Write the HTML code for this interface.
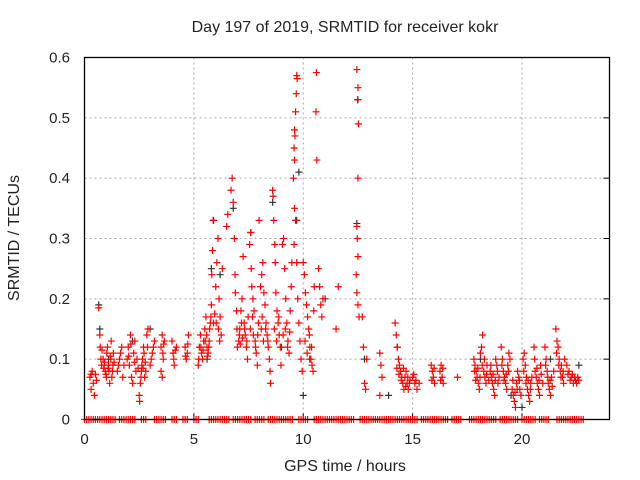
<!DOCTYPE html>
<html><head><meta charset="utf-8">
<style>
html,body{margin:0;padding:0;background:#fff;}
svg{display:block;font-family:"Liberation Sans",sans-serif;}
</style></head>
<body>
<svg id="chart" width="640" height="480" viewBox="0 0 640 480">
  <text x="345" y="32" font-size="16" text-anchor="middle" fill="#222">Day 197 of 2019, SRMTID for receiver kokr</text>
  <text x="0" y="0" font-size="16" text-anchor="middle" fill="#222" transform="translate(19,238) rotate(-90)">SRMTID / TECUs</text>
  <text x="345" y="471" font-size="16" text-anchor="middle" fill="#222">GPS time / hours</text>
  <g id="grid"></g>
  <g id="ticks"></g>
  <g id="black"></g>
  <g id="red"></g>
  <rect x="84.5" y="57.5" width="525" height="362" fill="none" stroke="#000" stroke-width="1.3"/>
</svg>
<script>
const xTicks = [0,5,10,15,20];
const yTicks = [0,0.1,0.2,0.3,0.4,0.5,0.6];
const yTickLabels = ["0","0.1","0.2","0.3","0.4","0.5","0.6"];
const redPoints = [
[0.25,0.07],[0.3,0.05],[0.35,0.08],[0.4,0.06],[0.45,0.04],[0.5,0.075],
[0.65,0.185],[0.7,0.14],[0.72,0.12],[0.75,0.1],[0.78,0.09],
[0.85,0.1],[0.9,0.09],[0.95,0.08],[1.0,0.07],[1.02,0.11],[1.05,0.12],[1.1,0.09],[1.12,0.08],[1.15,0.06],[1.2,0.1],[1.22,0.13],[1.25,0.07],[1.3,0.09],[1.32,0.11],
[1.5,0.08],[1.6,0.1],[1.7,0.12],[1.75,0.07],
[1.95,0.1],[2.0,0.12],[2.05,0.09],[2.1,0.14],[2.15,0.07],[2.2,0.06],[2.25,0.11],[2.3,0.13],[2.35,0.08],[2.4,0.1],
[2.5,0.04],[2.52,0.03],[2.55,0.06],[2.6,0.08],[2.62,0.09],[2.65,0.1],[2.7,0.12],[2.72,0.11],[2.75,0.07],[2.8,0.08],[2.85,0.14],[2.9,0.15],
[3.0,0.09],[3.1,0.11],[3.2,0.13],
[3.5,0.12],[3.55,0.14],[3.6,0.1],[3.65,0.13],[3.5,0.08],[3.55,0.07],
[4.0,0.13],[4.05,0.11],[4.1,0.09],[4.2,0.12],
[4.6,0.12],[4.65,0.1],[4.7,0.11],[4.75,0.14],
[5.2,0.09],[5.25,0.12],[5.3,0.14],[5.35,0.11],[5.4,0.1],[5.45,0.13],[5.5,0.15],[5.55,0.17],[5.6,0.12],[5.65,0.11],[5.7,0.13],[5.75,0.16],[5.8,0.19],[5.82,0.24],[5.85,0.28],[5.88,0.33],
[6.0,0.22],[6.05,0.26],[6.1,0.3],[6.15,0.2],[6.2,0.17],[6.25,0.14],[6.3,0.25],
[6.5,0.32],[6.55,0.34],[6.7,0.38],[6.75,0.4],[6.8,0.36],[6.85,0.3],[6.88,0.24],[6.9,0.21],[6.95,0.18],[6.97,0.15],[6.99,0.12],
[7.05,0.13],[7.1,0.15],[7.15,0.18],[7.2,0.2],[7.25,0.27],[7.3,0.16],[7.35,0.14],[7.4,0.12],[7.45,0.1],[7.48,0.17],
[7.55,0.29],[7.6,0.31],[7.62,0.25],[7.65,0.22],[7.7,0.2],[7.75,0.18],[7.8,0.13],[7.85,0.11],[7.9,0.09],[7.92,0.14],[7.95,0.16],[7.98,0.33],
[8.05,0.22],[8.1,0.24],[8.15,0.26],[8.2,0.21],[8.25,0.19],[8.3,0.16],[8.35,0.14],[8.4,0.12],[8.45,0.1],[8.48,0.08],[8.5,0.06],
[8.6,0.38],[8.62,0.37],[8.65,0.33],[8.7,0.29],[8.72,0.26],[8.75,0.21],[8.8,0.18],[8.85,0.16],[8.9,0.14],[8.95,0.12],[8.98,0.09],
[9.05,0.29],[9.1,0.3],[9.15,0.25],[9.2,0.2],[9.25,0.16],[9.3,0.13],[9.35,0.11],[9.4,0.18],[9.45,0.22],[9.48,0.26],
[9.7,0.57],[9.72,0.565],[9.68,0.54],[9.65,0.51],[9.6,0.48],[9.62,0.47],[9.58,0.45],[9.6,0.43],[9.55,0.4],[9.6,0.35],[9.65,0.33],[9.58,0.29],[9.7,0.26],[9.75,0.2],[9.8,0.16],[9.85,0.13],[9.9,0.1],[9.95,0.08],
[10.0,0.26],[10.05,0.24],[10.1,0.21],[10.15,0.19],[10.2,0.17],[10.25,0.15],[10.3,0.12],[10.35,0.1],[10.4,0.09],[10.45,0.08],[10.48,0.18],[10.5,0.22],
[10.6,0.575],[10.58,0.51],[10.62,0.43],[10.7,0.25],[10.75,0.22],[10.8,0.19],[10.85,0.17],[10.9,0.2],
[11.6,0.22],[11.5,0.15],
[12.45,0.58],[12.5,0.55],[12.48,0.53],[12.52,0.49],[12.5,0.4],[12.45,0.32],[12.47,0.3],[12.5,0.27],[12.42,0.24],[12.45,0.21],[12.5,0.19],[12.55,0.17],
[12.75,0.12],[12.8,0.06],[12.85,0.05],[12.7,0.17],[12.9,0.1],
[13.5,0.11],[13.55,0.09],[13.6,0.07],[13.5,0.04],
[14.2,0.16],[14.25,0.14],[14.3,0.12],[14.35,0.1],[14.4,0.09],[14.45,0.08],[14.5,0.07],[14.55,0.06],[14.6,0.05],[14.65,0.07],[14.7,0.08],[14.75,0.06],[14.8,0.05],[14.85,0.06],
[15.0,0.07],[15.1,0.06],[15.2,0.05],[15.3,0.06],
[15.85,0.09],[15.9,0.08],[15.95,0.07],[16.0,0.06],[16.25,0.08],[16.3,0.09],[16.35,0.07],[16.4,0.06],
[17.05,0.07],
[17.8,0.1],[17.85,0.09],[17.9,0.08],[17.95,0.07],[18.0,0.06],[18.05,0.05],[18.1,0.11],[18.15,0.12],[18.2,0.14],[18.25,0.08],[18.3,0.07],[18.35,0.06],[18.4,0.09],
[18.55,0.08],[18.6,0.07],[18.65,0.06],[18.7,0.05],[18.75,0.04],[18.8,0.1],[18.85,0.09],[18.9,0.06],
[19.05,0.12],[19.1,0.1],[19.15,0.08],[19.2,0.07],[19.25,0.06],[19.3,0.05],[19.35,0.09],[19.4,0.11],
[19.55,0.05],[19.6,0.04],[19.65,0.03],[19.7,0.02],[19.75,0.06],[19.8,0.08],[19.85,0.07],[19.9,0.05],
[20.05,0.1],[20.1,0.11],[20.15,0.09],[20.2,0.07],[20.25,0.05],[20.3,0.04],[20.35,0.03],[20.4,0.06],
[20.55,0.12],[20.6,0.08],[20.65,0.07],[20.7,0.06],[20.75,0.05],[20.8,0.04],[20.85,0.09],
[21.05,0.12],[21.1,0.1],[21.15,0.08],[21.2,0.06],[21.25,0.05],[21.3,0.04],[21.35,0.07],
[21.55,0.15],[21.6,0.13],[21.65,0.12],[21.7,0.1],[21.75,0.08],[21.8,0.09],[21.85,0.07],[21.9,0.06],
[22.05,0.09],[22.15,0.08],[22.25,0.07],[22.35,0.06],[22.45,0.065],[22.55,0.07]
];
const redPointsExtra = [
[0.3,0.075],[0.55,0.065],[0.8,0.115],[0.88,0.085],[0.92,0.095],[0.98,0.075],[1.08,0.085],[1.18,0.105],[1.28,0.08],[1.35,0.095],
[1.55,0.09],[1.65,0.11],[1.8,0.09],[2.02,0.105],[2.12,0.125],[2.28,0.095],[2.45,0.085],[2.58,0.07],[2.68,0.085],[2.78,0.095],[2.88,0.12],
[3.05,0.1],[3.15,0.12],[3.58,0.11],[3.62,0.125],[4.08,0.1],[4.15,0.115],[4.62,0.105],[4.72,0.125],
[5.22,0.1],[5.32,0.12],[5.42,0.115],[5.52,0.13],[5.58,0.14],[5.62,0.105],[5.68,0.12],[5.72,0.15],[5.78,0.17],[5.9,0.16],[5.95,0.175],
[6.02,0.16],[6.12,0.15],[6.18,0.13],[7.08,0.14],[7.12,0.125],[7.18,0.16],[7.22,0.135],[7.32,0.15],[7.42,0.13],
[7.58,0.15],[7.68,0.17],[7.72,0.14],[7.82,0.12],[8.08,0.15],[8.12,0.17],[8.18,0.13],[8.28,0.15],[8.38,0.13],
[8.68,0.15],[8.78,0.13],[8.88,0.17],[9.08,0.14],[9.18,0.15],[9.28,0.12],[9.38,0.145],
[10.08,0.13],[10.18,0.11],[10.28,0.14],[10.38,0.12],
[14.28,0.085],[14.38,0.075],[14.48,0.065],[14.58,0.085],[14.68,0.055],[14.78,0.07],[14.88,0.065],[15.05,0.075],[15.15,0.065],
[15.88,0.065],[15.98,0.085],[16.28,0.065],[16.38,0.085],
[17.82,0.08],[17.88,0.065],[17.98,0.085],[18.08,0.07],[18.18,0.09],[18.28,0.1],[18.38,0.075],[18.48,0.065],
[18.58,0.09],[18.68,0.075],[18.78,0.065],[18.88,0.08],[18.95,0.07],[19.08,0.09],[19.18,0.065],[19.28,0.075],[19.38,0.08],[19.45,0.1],
[19.58,0.065],[19.68,0.045],[19.78,0.05],[19.88,0.065],[19.95,0.04],[20.08,0.08],[20.18,0.06],[20.28,0.065],[20.38,0.05],[20.45,0.07],
[20.58,0.1],[20.68,0.085],[20.78,0.065],[20.88,0.075],[20.95,0.06],[21.08,0.09],[21.18,0.07],[21.28,0.065],[21.38,0.055],[21.45,0.08],
[21.58,0.11],[21.68,0.09],[21.78,0.07],[21.88,0.08],[21.95,0.1],[22.1,0.075],[22.2,0.065],[22.3,0.075],[22.4,0.07],[22.5,0.06],[22.6,0.065]
];
const blackPoints = [
[0.65,0.19],[0.7,0.15],[1.1,0.1],[2.2,0.13],[3.0,0.15],[5.6,0.1],[5.8,0.25],[5.9,0.33],[6.2,0.24],
[6.8,0.35],[7.6,0.31],[8.6,0.36],[9.0,0.12],[9.7,0.33],[9.8,0.41],[10.0,0.04],[10.3,0.1],[11.0,0.2],
[12.45,0.325],[12.5,0.53],[12.8,0.1],[13.9,0.04],[14.3,0.12],[18.1,0.1],[19.5,0.04],[20.0,0.02],[21.3,0.1],[22.6,0.09]
];
const zeroHours = [];
const zeroRanges = [[0,1.1],[1.2,1.4],[1.6,2.3],[2.6,2.8],[3.2,3.7],[4.0,4.2],[4.5,4.7],[5.0,5.2],[5.7,6.6],[6.8,7.6],[7.8,8.2],[8.4,9.5],[9.8,10.2],[10.5,12.3],[12.6,15.2],[15.4,16.6],[16.8,17.2],[17.6,18.8],[19.0,19.8],[20.0,20.6],[20.8,21.2],[21.6,22.8]];
for (const r of zeroRanges) { for (let h = r[0]; h <= r[1] + 1e-9; h += 0.1) zeroHours.push(+h.toFixed(2)); }

const X0=84.5, X1=609.5, Y0=419.5, Y1=57.5;
const xMax=24, yMax=0.6;
function sx(h){return X0+(h/xMax)*(X1-X0);}
function sy(v){return Y0-(v/yMax)*(Y0-Y1);}
const NS="http://www.w3.org/2000/svg";
function mk(tag,attrs){const e=document.createElementNS(NS,tag);for(const k in attrs)e.setAttribute(k,attrs[k]);return e;}

const grid=document.getElementById('grid'), ticks=document.getElementById('ticks');
xTicks.forEach(t=>{
  const x=sx(t);
  if(t>0){const l=mk('line',{x1:x,y1:Y0,x2:x,y2:Y1,stroke:'#a8a8a8','stroke-dasharray':'2,3','stroke-width':1});
  
  
  grid.appendChild(l);}
  const tk=mk('line',{x1:x,y1:Y0,x2:x,y2:Y0-6,stroke:'#000'});
  
  
  ticks.appendChild(tk);
  const tx=mk('text',{x:x,y:444,'font-size':15,'text-anchor':'middle',fill:'#222'});
  tx.textContent=String(t);
  
  
  ticks.appendChild(tx);
});
yTicks.forEach((t,i)=>{
  const y=sy(t);
  if(t>0){const l=mk('line',{x1:X0,y1:y,x2:X1,y2:y,stroke:'#a8a8a8','stroke-dasharray':'2,3','stroke-width':1});
  
  
  grid.appendChild(l);}
  const tk=mk('line',{x1:X1,y1:y,x2:X1-6,y2:y,stroke:'#000'});
  
  
  ticks.appendChild(tk);
  const tx=mk('text',{x:70,y:y+5,'font-size':15,'text-anchor':'end',fill:'#222'});
  tx.textContent=yTickLabels[i];
  
  
  ticks.appendChild(tx);
});
function cross(g,h,v,color,name){
  const x=sx(h), y=sy(v);
  const p=mk('path',{d:`M${x-3.5},${y}H${x+3.5}M${x},${y-3.5}V${y+3.5}`,stroke:color,'stroke-width':1.2,fill:'none'});
  
  
  g.appendChild(p);
}
const gb=document.getElementById('black'), gr=document.getElementById('red');
blackPoints.forEach(p=>cross(gb,p[0],p[1],'#333','black-point'));
zeroHours.forEach(h=>cross(gr,h,0,'#ff0000','red-zero-point'));
redPoints.forEach(p=>cross(gr,p[0],p[1],'#ff0000','red-point'));
redPointsExtra.forEach(p=>cross(gr,p[0],p[1],'#ff0000','red-point'));
</script>
</body></html>
